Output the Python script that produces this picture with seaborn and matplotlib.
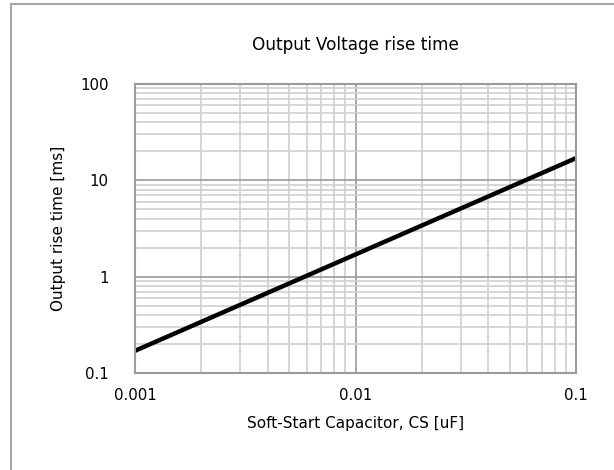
import matplotlib
matplotlib.use("Agg")
import matplotlib.pyplot as plt
import matplotlib.ticker as mticker
from matplotlib.patches import Rectangle
import pandas as pd
import seaborn as sns

# Values
capacitance_uf = [0.001, 0.01, 0.1]
rise_time_ms = [0.17, 1.7, 17.0]

df = pd.DataFrame({"cs": capacitance_uf, "t": rise_time_ms})

sns.set_style("white")
plt.rcParams["font.family"] = ["DejaVu Sans"]
plt.rcParams["text.color"] = "black"
plt.rcParams["axes.labelcolor"] = "black"

fig = plt.figure(figsize=(6.14, 4.70), dpi=100)
ax = fig.add_axes([135 / 614, 1 - 373 / 470, 441 / 614, 289 / 470])

# outer frame (cropped on right/bottom like the reference)
fig.patches.append(Rectangle((11 / 614, -0.05), 1.2, 1 - 4 / 470 + 0.05,
                             transform=fig.transFigure, fill=False,
                             edgecolor="#a6a6a6", linewidth=1.5))

sns.lineplot(data=df, x="cs", y="t", ax=ax, color="black", linewidth=3.2)

ax.set_xscale("log")
ax.set_yscale("log")
ax.set_xlim(0.001, 0.1)
ax.set_ylim(0.1, 100)

ax.xaxis.set_major_locator(mticker.LogLocator(base=10))
ax.xaxis.set_minor_locator(mticker.LogLocator(base=10, subs=range(2, 10)))
ax.yaxis.set_major_locator(mticker.LogLocator(base=10))
ax.yaxis.set_minor_locator(mticker.LogLocator(base=10, subs=range(2, 10)))
ax.xaxis.set_major_formatter(mticker.FuncFormatter(lambda v, p: f"{v:g}"))
ax.yaxis.set_major_formatter(mticker.FuncFormatter(lambda v, p: f"{v:g}"))
ax.xaxis.set_minor_formatter(mticker.NullFormatter())
ax.yaxis.set_minor_formatter(mticker.NullFormatter())

ax.grid(which="major", color="#9a9a9a", linewidth=1.2)
ax.grid(which="minor", color="#cfcfcf", linewidth=1.2)
ax.set_axisbelow(True)
for s in ax.spines.values():
    s.set_color("#9a9a9a")
    s.set_linewidth(1.5)

ax.tick_params(which="both", length=0, labelsize=10.8, colors="black")
ax.tick_params(axis="x", pad=11)
ax.tick_params(axis="y", pad=19)

ax.set_xlabel("Soft-Start Capacitor, CS [uF]", fontsize=11, labelpad=9)
ax.set_ylabel("Output rise time [ms]", fontsize=11, labelpad=10)
fig.text(355 / 614, 1 - 45 / 470, "Output Voltage rise time", ha="center",
         va="center", fontsize=12.2)

fig.savefig("out.png", dpi=100)
